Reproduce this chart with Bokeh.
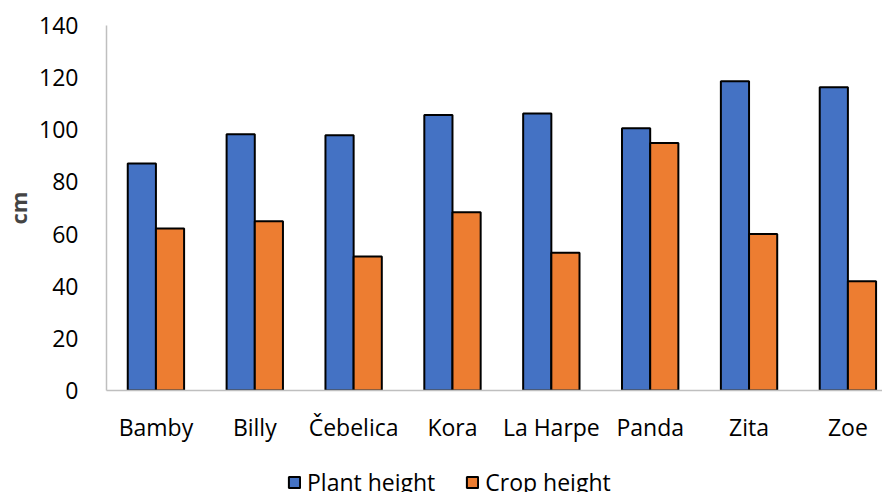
from bokeh.plotting import figure
from bokeh.layouts import column
from bokeh.models import Range1d, FixedTicker, Legend, LegendItem, ColumnDataSource
from bokeh.transform import dodge
from bokeh.embed import file_html
from bokeh.resources import INLINE

varieties = ["Bamby", "Billy", "Čebelica", "Kora", "La Harpe", "Panda", "Zita", "Zoe"]
plant_height = [87.1, 98.3, 97.9, 105.7, 106.2, 100.6, 118.6, 116.3]
crop_height = [62.1, 64.9, 51.4, 68.4, 52.8, 94.9, 60.0, 41.9]
y_ticks = [0, 20, 40, 60, 80, 100, 120, 140]
series_names = ["Plant height", "Crop height"]
series_colors = ["#4472C4", "#ED7D31"]

FONT = "Open Sans"
FS = "23px"
positions = [i + 0.5 for i in range(len(varieties))]
src = ColumnDataSource(dict(x=positions, plant=plant_height, crop=crop_height))

p = figure(width=882, height=446, output_backend="svg", toolbar_location=None,
           x_range=Range1d(0, 7.85), y_range=Range1d(0, 140),
           min_border_left=97, min_border_right=0, min_border_top=25,
           min_border_bottom=56)
p.outline_line_color = None
p.xgrid.grid_line_color = None
p.ygrid.grid_line_color = None

bar_cols = ["plant", "crop"]
offsets = [-0.1425, 0.1425]
for col, off, color in zip(bar_cols, offsets, series_colors):
    p.vbar(x=dodge("x", off, range=p.x_range), top=col, width=0.285, source=src,
           fill_color=color, line_color="black", line_width=2)

p.xaxis.ticker = FixedTicker(ticks=positions)
p.xaxis.major_label_overrides = {pos: name for pos, name in zip(positions, varieties)}
p.yaxis.ticker = FixedTicker(ticks=y_ticks)
for ax in (p.xaxis, p.yaxis):
    ax.axis_line_color = "#BFBFBF"
    ax.axis_line_width = 1.5
    ax.major_tick_line_color = None
    ax.minor_tick_line_color = None
    ax.major_label_text_font = FONT
    ax.major_label_text_font_size = FS
    ax.major_label_text_color = "black"
p.xaxis.major_label_standoff = 14
p.yaxis.major_label_standoff = 22
p.yaxis.axis_label = "cm"
p.yaxis.axis_label_text_font = FONT
p.yaxis.axis_label_text_font_size = "22px"
p.yaxis.axis_label_text_font_style = "bold"
p.yaxis.axis_label_standoff = 3

# legend strip below the chart (same series, renderers hidden; only the legend shows)
lg = figure(width=882, height=46, output_backend="svg", toolbar_location=None,
            x_axis_type=None, y_axis_type=None, x_range=Range1d(0, 7.85),
            y_range=Range1d(0, 140),
            min_border_left=0, min_border_right=0, min_border_top=0, min_border_bottom=0)
lg.outline_line_color = None
lg.xgrid.grid_line_color = None
lg.ygrid.grid_line_color = None
items = []
for name, col, color in zip(series_names, bar_cols, series_colors):
    r = lg.vbar(x="x", top=col, width=0.285, source=src,
                fill_color=color, line_color="black", line_width=2, visible=False)
    items.append(LegendItem(label=name, renderers=[r]))
legend = Legend(items=items, orientation="horizontal", location=(181, -6),
                label_text_font=FONT, label_text_font_size=FS, label_text_color="black",
                label_standoff=6, glyph_width=14, glyph_height=14, spacing=30,
                padding=0, margin=0, border_line_color=None, background_fill_alpha=0)
lg.add_layout(legend, "center")

layout = column(p, lg, spacing=0)
open("out.html", "w").write(file_html(layout, INLINE))
